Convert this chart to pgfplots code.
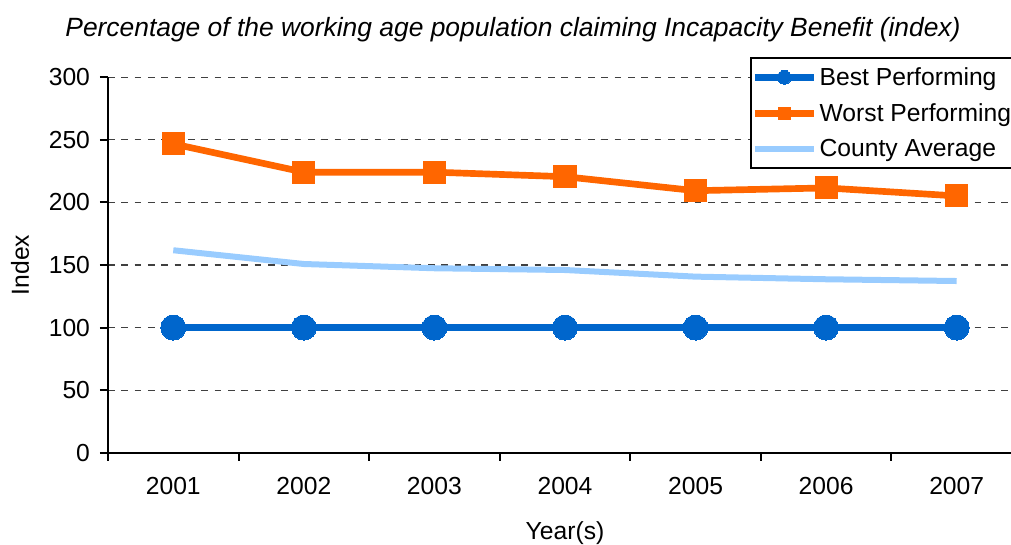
\documentclass[border=0pt]{standalone}
\usepackage{pgfplots}
\pgfplotsset{compat=1.18}
\usepackage{fontspec}
\setmainfont{Liberation Sans}

\definecolor{bestblue}{RGB}{0,102,204}
\definecolor{worstorange}{RGB}{255,102,0}
\definecolor{countyblue}{RGB}{153,204,255}

\newcommand{\chartfont}{\fontsize{18.5}{22}\selectfont}

\begin{document}
\begin{tikzpicture}
\begin{axis}[
  at={(0pt,0pt)}, anchor=south west,
  scale only axis,
  width=685.5pt, height=281.5pt,
  xmin=-0.5, xmax=6.5, ymin=0, ymax=300,
  clip=false,
  axis x line*=bottom, axis y line*=left,
  axis line style={line width=1.5pt, black},
  xtick={0,...,6},
  xticklabels={2001,2002,2003,2004,2005,2006,2007},
  minor xtick={-0.5,0.5,...,6.5},
  ytick={0,50,...,300},
  tick align=outside,
  major tick length=6pt, minor tick length=6pt,
  every tick/.style={line width=1.5pt, black},
  major x tick style={draw=none},
  ymajorgrids,
  major grid style={line width=0.8pt, black!75, dash pattern=on 5pt off 5pt},
  tick label style={font=\chartfont},
  /pgf/number format/assume math mode=true,
  xticklabel style={yshift=-9pt},
  yticklabel style={xshift=-4pt},
  legend style={at={(rel axis cs:0.7024,1.054)}, anchor=north west,
    draw=black, line width=1.5pt, font=\chartfont,
    inner xsep=0.5pt, inner ysep=5pt, row sep=8pt, fill=white},
  legend cell align=left,
  legend image code/.code={
    \draw[mark repeat=2, mark phase=2, every mark/.append style={scale=0.55}]
      plot coordinates {(1pt,0pt) (23pt,0pt) (45pt,0pt)};
  },
]
% Best performing area (index base = 100)
\addplot[bestblue, line width=5pt, mark=*, mark size=9.4pt,
  mark options={fill=bestblue, draw=bestblue, line width=0pt}]
  coordinates {(0,100) (1,100) (2,100) (3,100) (4,100) (5,100) (6,100)};
\addlegendentry{Best Performing}
% Worst performing area
\addplot[worstorange, line width=5pt, mark=square*, mark size=8.25pt,
  mark options={fill=worstorange, draw=worstorange, line width=0pt}]
  coordinates {(0,246.8) (1,224.2) (2,224.2) (3,220.6) (4,209.4) (5,211.6) (6,205.2)};
\addlegendentry{Worst Performing}
% County average
\addplot[countyblue, line width=4.5pt, no marks]
  coordinates {(0,161.8) (1,150.8) (2,147.4) (3,146.0) (4,140.7) (5,138.6) (6,137.2)};
\addlegendentry{County Average}
\end{axis}
\node[font=\fontsize{19.8}{24}\selectfont\itshape] at (303.75pt,317pt)
  {Percentage of the working age population claiming Incapacity Benefit (index)};
\node[font=\chartfont, rotate=90] at (-66pt,140.75pt) {Index};
\node[font=\chartfont] at (342.75pt,-60.5pt) {Year(s)};
\pgfresetboundingbox
\path[use as bounding box] (-81pt,-68.5pt) rectangle (677.25pt,339.5pt);
\end{tikzpicture}
\end{document}
